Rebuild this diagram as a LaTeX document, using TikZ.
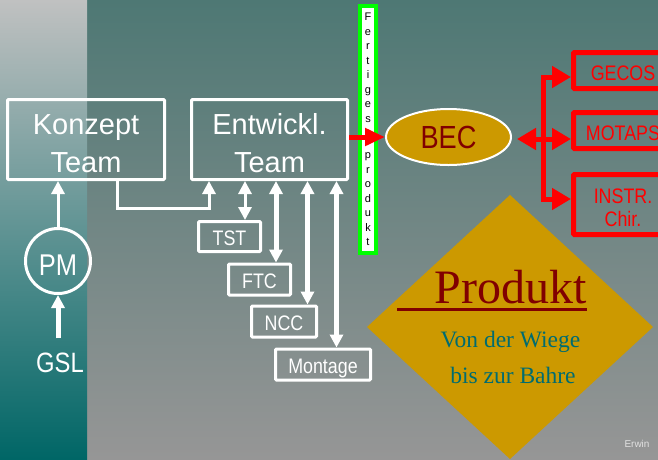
\documentclass[tikz,border=0pt]{standalone}
\usepackage{fontspec}
\setmainfont{Liberation Serif}
\newfontfamily\wsans{Liberation Sans}
\newfontfamily\nsans[FakeStretch=0.85]{Liberation Sans}
\usetikzlibrary{arrows.meta,shapes.geometric}
\definecolor{gold}{RGB}{204,153,0}
\definecolor{dred}{RGB}{128,0,0}
\definecolor{tealtxt}{RGB}{0,108,112}
\definecolor{bgtop}{RGB}{78,120,116}
\definecolor{bgmid}{RGB}{128,137,136}
\definecolor{bgbot}{RGB}{150,150,150}
\definecolor{ltop}{RGB}{192,193,193}
\definecolor{lmid}{RGB}{110,150,150}
\definecolor{lbot}{RGB}{0,102,102}
\definecolor{lgreen}{RGB}{0,255,0}
\definecolor{erwincol}{RGB}{225,225,225}
\tikzset{
  wbox/.style={draw=white, line width=3pt, rounded corners=1pt, inner sep=0pt, text=white},
  bigbox/.style={wbox, minimum width=157pt, minimum height=80pt, align=center,
    font=\wsans\fontsize{29}{38}\selectfont},
  smallbox/.style={wbox, minimum height=31pt, text height=17pt, text depth=0pt,
    font=\nsans\fontsize{21}{21}\selectfont},
  rbox/.style={draw=red, line width=5pt, rounded corners=1pt, inner sep=0pt, text=red,
    minimum width=99pt, font=\nsans\fontsize{21}{23}\selectfont},
  wtip/.tip={Triangle[length=13pt,width=13pt]},
  rtip/.tip={Triangle[length=19pt,width=21pt]},
  wline/.style={draw=white, line width=3pt},
  wthick/.style={draw=white, line width=5pt},
  rline/.style={draw=red, line width=5pt, line join=miter},
}
\begin{document}
\begin{tikzpicture}[x=1pt,y=-1pt]
\useasboundingbox (0,0) rectangle (658,459);
\clip (0,0) rectangle (658,459);
% backgrounds
\shade[top color=bgtop, middle color=bgmid, bottom color=bgbot] (87,0) rectangle (658,459);
\shade[top color=ltop, middle color=lmid, bottom color=lbot] (0,0) rectangle (87,459);

% diamond
\fill[gold] (510,195) -- (653,327) -- (510,459) -- (367,327) -- cycle;
\node[text=dred, font=\fontsize{48}{48}\selectfont, anchor=base, inner sep=0pt] (produkt) at (510.5,303) {Produkt};
\draw[dred, line width=3pt] ([xshift=-37pt,yshift=-6pt]produkt.base west) -- ([yshift=-6pt]produkt.base east);
\node[text=tealtxt, font=\fontsize{23.5}{23.5}\selectfont, anchor=base, inner sep=0pt] (wiege) at (510.5,347) {Von der Wiege};
\node[text=tealtxt, font=\fontsize{23.5}{23.5}\selectfont, anchor=base, inner sep=0pt] (bahre) at (513,383) {bis zur Bahre};

% main boxes
\node[bigbox] (konzept) at (86,139.5) {\rule{0pt}{29pt}Konzept\\Team};
\node[bigbox, minimum width=156pt] (entw) at (269.5,139.5) {\rule{0pt}{29pt}Entwickl.\\Team};

% small boxes
\node[smallbox, minimum width=62pt, minimum height=30pt] (tst) at (229.5,236.5) {TST};
\node[smallbox, minimum width=62pt] (ftc) at (259.5,279.5) {FTC};
\node[smallbox, minimum width=65pt] (ncc) at (284,321.5) {NCC};
\node[smallbox, minimum width=95pt] (montage) at (323,364.5) {Montage};

% PM and GSL
\node[circle, draw=white, line width=3pt, minimum size=65pt, inner sep=0pt, text=white,
  font=\nsans\fontsize{30}{30}\selectfont, text height=28pt, text depth=0pt] (pm) at (58,261) {PM};
\node[text=white, font=\nsans\fontsize{28}{28}\selectfont, anchor=base, inner sep=0pt] (gsl) at (60,372) {GSL};

% connectors (white)
\draw[wline, -wtip] (pm.north) -- (pm.north |- konzept.south);
\draw[wthick, -wtip, shorten <=14pt] (gsl.north -| pm.south) -- (pm.south);
\draw[wline, -wtip] ([xshift=31pt]konzept.south) -- ++(0,27) -| ([xshift=-60.5pt]entw.south);
\draw[wline, wtip-wtip] ([xshift=-24.5pt]entw.south) -- ([xshift=-24.5pt]entw.south |- tst.north);
\draw[wthick, wtip-wtip] ([xshift=6.5pt]entw.south) -- ([xshift=6.5pt]entw.south |- ftc.north);
\draw[wthick, wtip-wtip] ([xshift=38pt]entw.south) -- ([xshift=38pt]entw.south |- ncc.north);
\draw[wthick, wtip-wtip] ([xshift=67pt]entw.south) -- ([xshift=67pt]entw.south |- montage.north);

% Fertiges produkt
\node[draw=lgreen, fill=white, line width=4pt, minimum width=16pt, minimum height=247pt,
  inner sep=0pt, align=center, font=\wsans\fontsize{11}{14.5}\selectfont] (fp) at (368,129.5)
  {F\\e\\r\\t\\i\\g\\e\\s\\[22pt]p\\r\\o\\d\\u\\k\\t};

% BEC
\node[ellipse, fill=gold, draw=white, line width=2pt, minimum width=125pt, minimum height=56pt,
  inner sep=0pt, text=dred, font=\nsans\fontsize{32}{32}\selectfont, text height=23pt, text depth=0pt]
  (bec) at (448.5,137) {BEC};

% red boxes
\node[rbox, minimum height=36pt, text height=20pt, text depth=0pt] (gecos) at (623,70.5) {GECOS};
\node[rbox, minimum height=36pt, text height=20pt, text depth=0pt] (motaps) at (623,130.5) {MOTAPS};
\node[rbox, minimum height=60pt, align=center] (instr) at (623,204.5) {\rule{0pt}{21pt}INSTR.\\Chir.};

% red connectors
\draw[rline, -{Triangle[length=20pt,width=17pt]}] (entw.east |- bec.west) -- (bec.west);
\draw[rline, rtip-rtip] ([xshift=5pt,yshift=-2pt]bec.east) -- ([yshift=-2pt]bec.east -| motaps.west);
\draw[rline, rtip-rtip] ([yshift=-6.5pt]gecos.west) -- ++(-28,0) |- ([yshift=5.5pt]instr.west);

% signature
\node[text=erwincol, font=\wsans\fontsize{10}{10}\selectfont, anchor=base, inner sep=0pt] (erwin) at (637,447) {Erwin};
\end{tikzpicture}
\end{document}
